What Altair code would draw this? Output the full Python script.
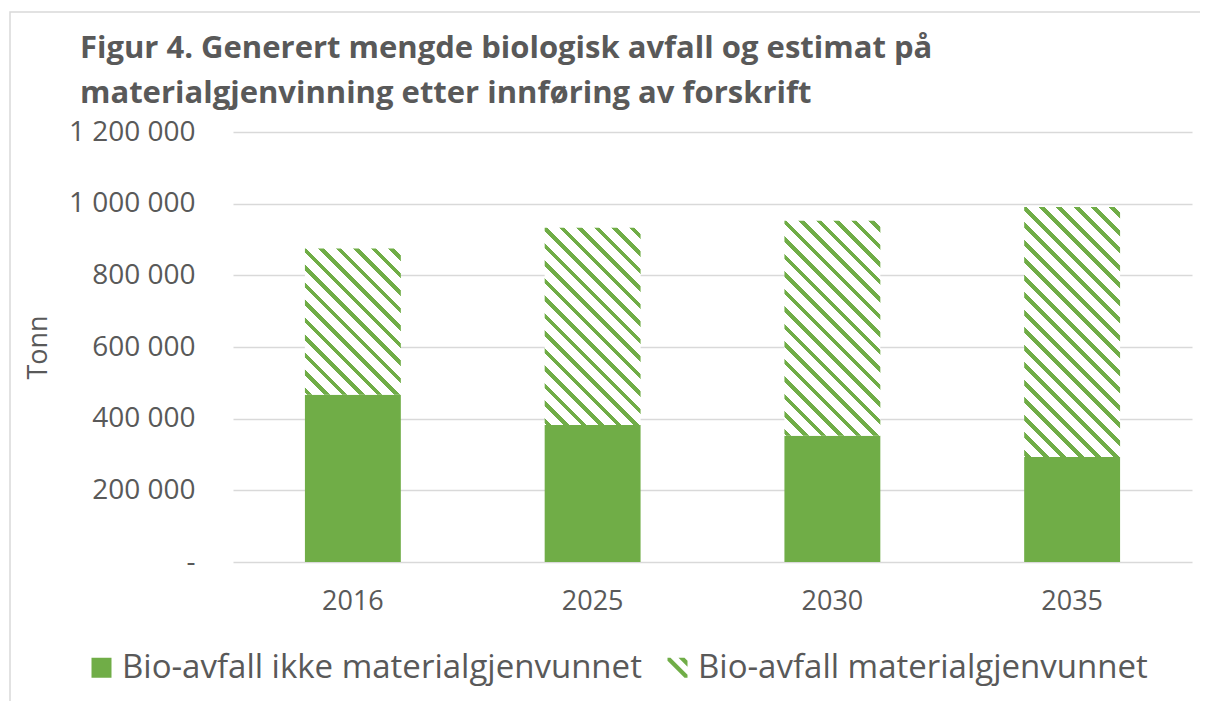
import altair as alt
import pandas as pd

# ---- data ----
years = ["2016", "2025", "2030", "2035"]
series = ["Bio-avfall ikke materialgjenvunnet", "Bio-avfall materialgjenvunnet"]
not_recycled = [467000, 382000, 352000, 293000]
recycled = [408000, 551000, 600000, 698000]
y_ticks = [0, 200000, 400000, 600000, 800000, 1000000, 1200000]
title_lines = [
    "Figur 4. Generert mengde biologisk avfall og estimat på",
    "materialgjenvinning etter innføring av forskrift",
]

GREEN = "#70AD47"
WHITE = "#FFFFFF"
TEXT = "#595959"
GRID = "#D9D9D9"
FONT = "Open Sans"

W, H = 959, 430
YMAX = 1200000
P_IN, P_OUT = 0.6, 0.3
step = W / (len(years) - P_IN + 2 * P_OUT)
BW = step * (1 - P_IN)

rows = []
for i, yr in enumerate(years):
    rows.append({"year": yr, "series": series[0], "value": not_recycled[i], "ord": 0})
    rows.append({"year": yr, "series": series[1], "value": recycled[i], "ord": 1})
df = pd.DataFrame(rows)


def hatch(value):
    """Diagonal stripe fill (\\ direction) built as a linear gradient."""
    h = value * H / YMAX
    w = BW
    r = h / w
    s = (1 + r) / (1 + r * r)
    period = 17.5 / (w + h)
    frac = 0.32
    stops = [{"offset": 0, "color": WHITE}]
    k = -1
    while True:
        a = k * period + 0.1 * period
        b = a + frac * period
        k += 1
        if a >= 1:
            break
        if b <= 0:
            continue
        a2, b2 = max(a, 0.0), min(b, 1.0)
        stops += [
            {"offset": round(a2, 5), "color": WHITE},
            {"offset": round(a2, 5), "color": GREEN},
            {"offset": round(b2, 5), "color": GREEN},
            {"offset": round(b2, 5), "color": WHITE},
        ]
    stops.append({"offset": 1, "color": WHITE})
    return {"gradient": "linear", "x1": 0, "y1": 1, "x2": s, "y2": 1 - s * r, "stops": stops}


conditions = [
    {
        "test": f"datum.series == '{series[1]}' && datum.year == '{yr}'",
        "value": hatch(recycled[i]),
    }
    for i, yr in enumerate(years)
]

x_enc = alt.X(
    "year:N",
    sort=years,
    scale=alt.Scale(paddingInner=P_IN, paddingOuter=P_OUT),
    axis=alt.Axis(
        title=None, labelAngle=0, domain=False, ticks=False, labelPadding=26,
        labelFontSize=27, labelColor=TEXT, labelFont=FONT,
    ),
)

y_axis = alt.Axis(
    title="Tonn",
    values=y_ticks,
    grid=True,
    gridColor=GRID,
    gridWidth=1.3,
    domain=False,
    ticks=False,
    labelPadding=38,
    labelFontSize=28,
    labelColor=TEXT,
    labelFont=FONT,
    labelExpr="datum.value == 0 ? '-\u00a0\u00a0' : replace(format(datum.value, ','), regexp(',', 'g'), ' ')",
    titleFontSize=27,
    titleFontWeight="normal",
    titleColor=TEXT,
    titleFont=FONT,
    titlePadding=16,
)

bars = alt.Chart(df).mark_bar().encode(
    x=x_enc,
    y=alt.Y("value:Q", stack="zero", scale=alt.Scale(domain=[0, YMAX], nice=False), axis=y_axis),
    order=alt.Order("ord:Q"),
    fill={"condition": conditions, "value": GREEN},
)

hatch_path = (
    "M-0.7,-1L1,0.7L1,1L0.7,1L-1,-0.7L-1,-1Z"
    "M0.1,-1L0.7,-1L1,-0.7L1,-0.1Z"
)

legend_def = dict(
    title=None, orient="none", legendX=-148, legendY=519, direction="horizontal",
    symbolSize=400, symbolStrokeWidth=0, symbolOpacity=1,
    labelFontSize=33, labelColor=TEXT, labelFont=FONT, labelOffset=4,
    columnPadding=19, labelLimit=900,
)

legend_layer = alt.Chart(df).transform_filter("false").mark_point(filled=True).encode(
    x=alt.X("year:N", sort=years),
    y=alt.Y("value:Q"),
    color=alt.Color(
        "series:N",
        scale=alt.Scale(domain=series, range=[GREEN, GREEN]),
        legend=alt.Legend(**legend_def),
    ),
    shape=alt.Shape(
        "series:N",
        scale=alt.Scale(domain=series, range=["square", hatch_path]),
        legend=alt.Legend(**legend_def),
    ),
)

frame = alt.Chart(alt.Data(values=[{}])).mark_rect(
    fill=None, stroke=GRID, strokeWidth=1.5
).encode(
    x=alt.value(-223), x2=alt.value(1000), y=alt.value(-120), y2=alt.value(700)
)

chart = alt.layer(frame, bars, legend_layer).properties(
    width=W,
    height=H,
    autosize=alt.AutoSizeParams(type="none"),
    padding={"left": 225, "top": 124, "right": 8, "bottom": 139},
    title=alt.TitleParams(
        text=title_lines, anchor="start", frame="group", dx=-153, dy=109,
        fontSize=31, fontWeight="bold", color=TEXT, font=FONT, lineHeight=45, offset=10,
    ),
).configure(font=FONT).configure_view(stroke=None)

chart.save("out.html", embed_options={"renderer": "svg", "actions": False})
